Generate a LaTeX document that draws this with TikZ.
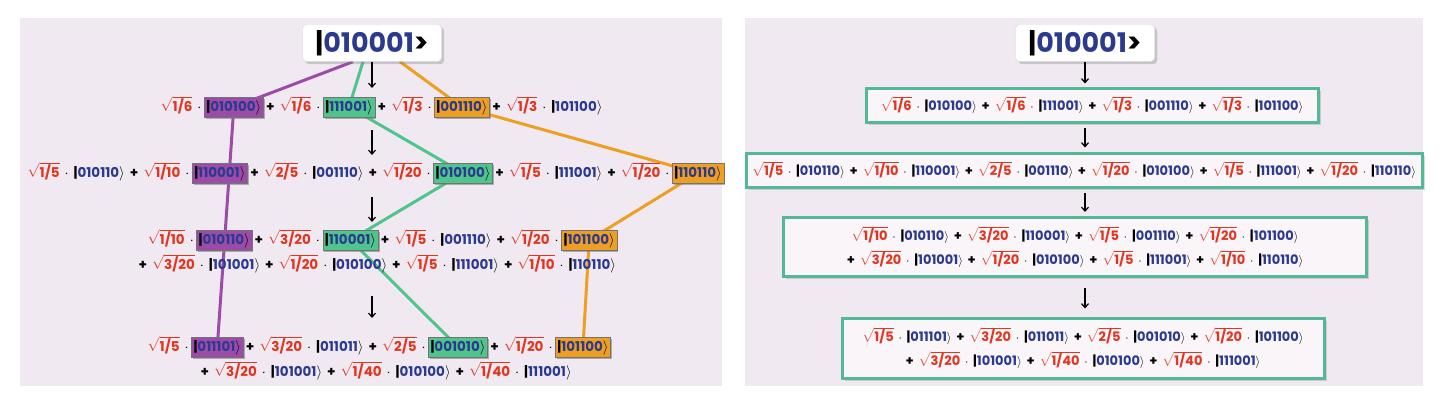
\documentclass[tikz,border=0pt]{standalone}
\usepackage{amsmath}
\usepackage{fontspec}
\setmainfont{Poppins}
\usetikzlibrary{arrows.meta,positioning,calc,shadows,backgrounds}

\definecolor{cred}{HTML}{E2351F}
\definecolor{cblue}{HTML}{2B3A8F}
\definecolor{panel}{HTML}{F1E9F2}
\definecolor{cpurp}{HTML}{9C4BA8}
\definecolor{cgreen}{HTML}{4FC48C}
\definecolor{corange}{HTML}{EE9F22}
\definecolor{cteal}{HTML}{52B895}

\newcommand{\coef}[1]{\textcolor{cred}{$\sqrt{\smash[b]{\mbox{#1}}}$}}
\newcommand{\qket}[1]{\textcolor{black}{|}\textcolor{cblue}{#1}$\rangle$}
\newcommand{\widesp}{\spaceskip=0.37em plus 0.1em\relax}

\begin{document}
\begin{tikzpicture}[x=1pt,y=-1pt,node distance=0pt,
    seg/.style={inner xsep=2.5pt,inner ysep=0pt,text height=11pt,text depth=3pt,
      font=\bfseries\fontsize{13.5}{16}\selectfont\widesp},
    kb/.style={seg,draw=black!55,inner xsep=2pt,inner ysep=3pt,
      drop shadow={shadow xshift=1.5pt,shadow yshift=-1.5pt,opacity=0.6}},
    topbox/.style={draw=black!15,fill=white,rounded corners=4pt,minimum width=139pt,
      minimum height=37pt,drop shadow={opacity=0.35},
      font=\bfseries\fontsize{27}{27}\selectfont},
    rbox/.style={draw=cteal,line width=3pt,fill=white!55!panel,align=center,
      drop shadow={opacity=0.3},
      font=\bfseries\fontsize{13}{24}\selectfont\widesp},
    arr/.style={-{Straight Barb[length=4pt,width=7pt]},line width=1.2pt},
    pline/.style={line width=3pt,draw=cpurp},
    gline/.style={line width=3pt,draw=cgreen},
    oline/.style={line width=3pt,draw=corange}]
  \useasboundingbox (0,0) rectangle (1445,412);
  \begin{scope}[on background layer]
    \fill[panel] (20,18) rectangle (722,386);
    \fill[panel] (745,18) rectangle (1423,386);
  \end{scope}

  \node[topbox] (ltop) at (372,43) {|\textcolor{cblue}{010001}>};

  \node[seg,anchor=west] (r1a) at (158,107) {\coef{1/6} $\cdot$};
  \node[kb,fill=cpurp,right=of r1a] (p1) {\qket{010100}};
  \node[seg,right=of p1] (r1b) {+ \coef{1/6} $\cdot$};
  \node[kb,fill=cgreen,right=of r1b] (g1) {\qket{111001}};
  \node[seg,right=of g1] (r1c) {+ \coef{1/3} $\cdot$};
  \node[kb,fill=corange,right=of r1c] (o1) {\qket{001110}};
  \node[seg,right=of o1] (r1d) {+ \coef{1/3} $\cdot$ \qket{101100}};

  \node[seg,anchor=west] (r2a) at (25,173) {\coef{1/5} $\cdot$ \qket{010110} + \coef{1/10} $\cdot$};
  \node[kb,fill=cpurp,right=of r2a] (p2) {\qket{110001}};
  \node[seg,right=of p2] (r2b) {+ \coef{2/5} $\cdot$ \qket{001110} + \coef{1/20} $\cdot$};
  \node[kb,fill=cgreen,right=of r2b] (g2) {\qket{010100}};
  \node[seg,right=of g2] (r2c) {+ \coef{1/5} $\cdot$ \qket{111001} + \coef{1/20} $\cdot$};
  \node[kb,fill=corange,right=of r2c] (o2) {\qket{110110}};

  \node[seg,anchor=west] (r3a) at (145,240) {\coef{1/10} $\cdot$};
  \node[kb,fill=cpurp,right=of r3a] (p3) {\qket{010110}};
  \node[seg,right=of p3] (r3b) {+ \coef{3/20} $\cdot$};
  \node[kb,fill=cgreen,right=of r3b] (g3) {\qket{110001}};
  \node[seg,right=of g3] (r3c) {+ \coef{1/5} $\cdot$ \qket{001110} + \coef{1/20} $\cdot$};
  \node[kb,fill=corange,right=of r3c] (o3) {\qket{101100}};
  \node[seg,anchor=west] (r3d) at (136,265) {+ \coef{3/20} $\cdot$ \qket{101001} + \coef{1/20} $\cdot$ \qket{010100} + \coef{1/5} $\cdot$ \qket{111001} + \coef{1/10} $\cdot$ \qket{110110}};

  \node[seg,anchor=west] (r4a) at (145,347) {\coef{1/5} $\cdot$};
  \node[kb,fill=cpurp,right=of r4a] (p4) {\qket{011101}};
  \node[seg,right=of p4] (r4b) {+ \coef{3/20} $\cdot$ \qket{011011} + \coef{2/5} $\cdot$};
  \node[kb,fill=cgreen,right=of r4b] (g4) {\qket{001010}};
  \node[seg,right=of g4] (r4c) {+ \coef{1/20} $\cdot$};
  \node[kb,fill=corange,right=of r4c] (o4) {\qket{101100}};
  \node[seg,anchor=west] (r4d) at (198,372) {+ \coef{3/20} $\cdot$ \qket{101001} + \coef{1/40} $\cdot$ \qket{010100} + \coef{1/40} $\cdot$ \qket{111001}};

  \begin{scope}[on background layer]
    \draw[pline] ($(ltop.south)+(-19,0)$) -- (p1.center) -- (p4.center);
    \draw[gline] ($(ltop.south)+(-9,0)$) -- (g1.center) -- (g2.center) -- (g3.center) -- (g4.center);
    \draw[oline] ($(ltop.south)+(28,0)$) -- (o1.center) -- (o2.center) -- (o3.center) -- (o4.center);
  \end{scope}

  \coordinate (la1) at (372,88);
  \coordinate (la2) at (372,130); \coordinate (la3) at (372,155);
  \coordinate (la4) at (372,197); \coordinate (la5) at (372,222);
  \coordinate (la6) at (372,296); \coordinate (la7) at (372,318);
  \draw[arr] (ltop.south) -- (la1);
  \draw[arr] (la2) -- (la3);
  \draw[arr] (la4) -- (la5);
  \draw[arr] (la6) -- (la7);

  \node[topbox] (rtop) at (1085,43) {|\textcolor{cblue}{010001}>};
  \node[rbox,minimum width=452pt,minimum height=34pt] (rb1) at (1092,105)
    {\coef{1/6} $\cdot$ \qket{010100} + \coef{1/6} $\cdot$ \qket{111001} + \coef{1/3} $\cdot$ \qket{001110} + \coef{1/3} $\cdot$ \qket{101100}};
  \node[rbox,minimum width=676pt,minimum height=34pt,inner xsep=1pt] (rb2) at (1084,170)
    {\coef{1/5} $\cdot$ \qket{010110} + \coef{1/10} $\cdot$ \qket{110001} + \coef{2/5} $\cdot$ \qket{001110} + \coef{1/20} $\cdot$ \qket{010100} + \coef{1/5} $\cdot$ \qket{111001} + \coef{1/20} $\cdot$ \qket{110110}};
  \node[rbox,minimum width=583pt,minimum height=59pt] (rb3) at (1075,247)
    {\coef{1/10} $\cdot$ \qket{010110} + \coef{3/20} $\cdot$ \qket{110001} + \coef{1/5} $\cdot$ \qket{001110} + \coef{1/20} $\cdot$ \qket{101100}\\
     + \coef{3/20} $\cdot$ \qket{101001} + \coef{1/20} $\cdot$ \qket{010100} + \coef{1/5} $\cdot$ \qket{111001} + \coef{1/10} $\cdot$ \qket{110110}};
  \node[rbox,minimum width=482pt,minimum height=60pt] (rb4) at (1083,348)
    {\coef{1/5} $\cdot$ \qket{011101} + \coef{3/20} $\cdot$ \qket{011011} + \coef{2/5} $\cdot$ \qket{001010} + \coef{1/20} $\cdot$ \qket{101100}\\
     + \coef{3/20} $\cdot$ \qket{101001} + \coef{1/40} $\cdot$ \qket{010100} + \coef{1/40} $\cdot$ \qket{111001}};

  \draw[arr] (rtop.south) -- ([yshift=3pt]rb1.north -| rtop.south);
  \draw[arr,shorten <=4pt,shorten >=4pt] (rb1.south -| rtop.south) -- (rb2.north -| rtop.south);
  \draw[arr,shorten <=4pt,shorten >=4pt] (rb2.south -| rtop.south) -- (rb3.north -| rtop.south);
  \draw[arr,shorten <=10pt,shorten >=8pt] (rb3.south -| rtop.south) -- (rb4.north -| rtop.south);
\end{tikzpicture}
\end{document}
